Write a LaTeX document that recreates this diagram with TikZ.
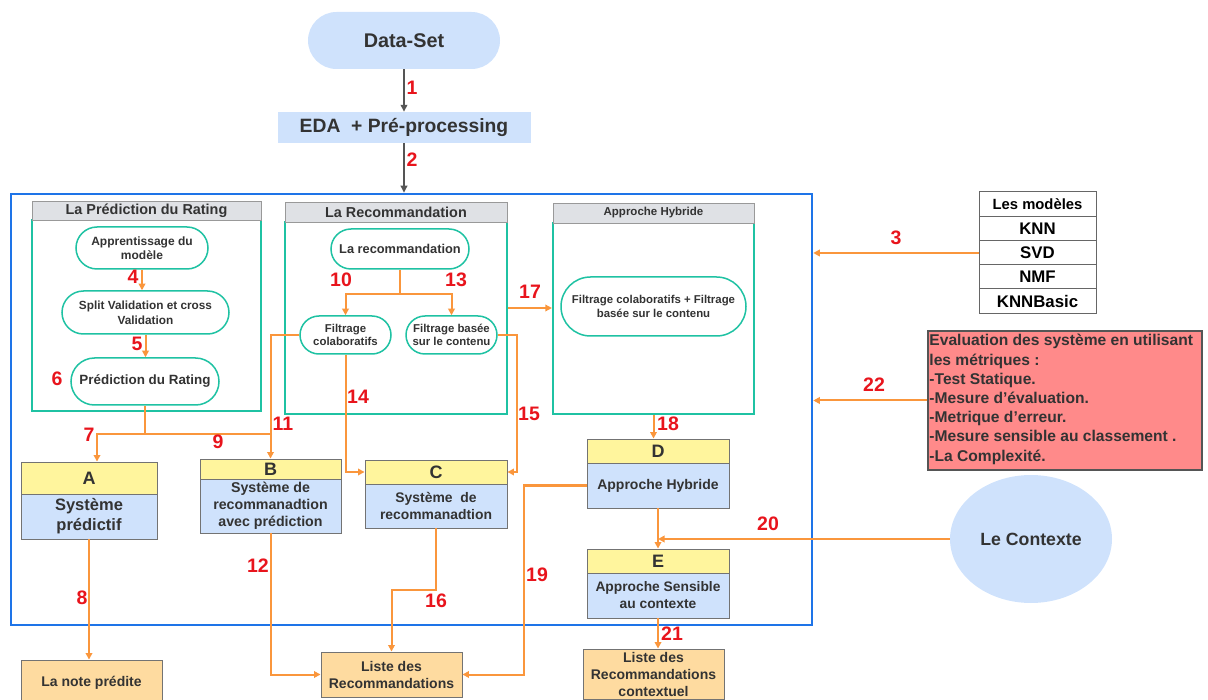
\documentclass[tikz,border=0pt]{standalone}
\usepackage{fontspec}
\setmainfont{Liberation Sans}
\usetikzlibrary{arrows.meta,calc,shapes.geometric,shapes.misc}

\definecolor{frameblue}{HTML}{1E74E8}
\definecolor{tealc}{HTML}{1FC2A3}
\definecolor{lightblue}{HTML}{CFE2FC}
\definecolor{hdrgray}{HTML}{DFE1E5}
\definecolor{hdryellow}{HTML}{FFF59D}
\definecolor{outbox}{HTML}{FEDBA0}
\definecolor{evalred}{HTML}{FF8A8A}
\definecolor{conncol}{HTML}{FA963C}
\definecolor{numred}{HTML}{E8141C}
\definecolor{txt}{HTML}{333333}
\definecolor{grayline}{HTML}{555555}

\newcommand{\fz}[2]{\fontsize{#1}{#2}\selectfont}

\begin{document}
\begin{tikzpicture}[x=1pt,y=-1pt,
  every node/.style={inner sep=0pt, text=txt, font=\bfseries},
  pill/.style={shape=rounded rectangle, draw=tealc, line width=1.5pt, fill=white, align=center},
  panelbody/.style={draw=tealc, line width=2.2pt, fill=white},
  panelhdr/.style={draw=gray!80, line width=0.8pt, fill=hdrgray},
  lethdr/.style={draw=gray!90!black, line width=0.9pt, fill=hdryellow, font=\bfseries\fz{18}{20}},
  letbody/.style={draw=gray!90!black, line width=0.9pt, fill=lightblue, align=center},
  outnode/.style={draw=gray!90!black, line width=0.9pt, fill=outbox, align=center, font=\bfseries\fz{14}{17}},
  modrow/.style={draw=gray!80!black, line width=0.8pt, fill=white, minimum width=117pt, minimum height=24.25pt, text=black, font=\bfseries\fz{16.8}{18}},
  num/.style={text=numred, font=\bfseries\fz{19.5}{21}},
  conn/.style={draw=conncol, line width=2pt},
  carrow/.style={conn, -{Triangle[length=6.5pt,width=6.5pt]}},
  garrow/.style={draw=grayline, line width=2pt, -{Triangle[length=7pt,width=6.5pt]}}
]
\useasboundingbox (0,0) rectangle (1208,700);

% outer frame
\node[draw=frameblue, line width=2.5pt, minimum width=801pt, minimum height=431pt] (frame) at (411.5,409.5) {};

% top: data set and preprocessing
\node[shape=rounded rectangle, fill=lightblue, minimum width=192pt, minimum height=57pt, font=\bfseries\fz{19.8}{22}] (ds) at (404,40.5) {Data-Set};
\node[fill=lightblue, minimum width=253pt, minimum height=31pt, font=\bfseries\fz{19.3}{22}] (eda) at (404,127.5) {EDA\ \ + Pré-processing};
\draw[garrow] (ds.south) -- (ds.south |- eda.north);
\draw[garrow] (ds.south |- eda.south) -- (ds.south |- frame.north);

% panel 1: rating prediction
\node[panelbody, minimum width=229pt, minimum height=191pt] (pb1) at (146.5,315.5) {};
\node[panelhdr, minimum width=229pt, minimum height=19pt, font=\bfseries\fz{14.4}{16}] (ph1) at (146.5,210.5) {La Prédiction du Rating};
\node[pill, minimum width=132pt, minimum height=42pt, font=\bfseries\fz{12}{14.5}] (p1) at (142,248) {Apprentissage du\\modèle};
\node[pill, minimum width=167pt, minimum height=43pt, font=\bfseries\fz{11.8}{15}] (p2) at (145.5,312.5) {Split Validation et cross\\Validation};
\node[pill, minimum width=148pt, minimum height=47pt, font=\bfseries\fz{13.4}{16}] (p3) at (145,381.5) {Prédiction du Rating};

% panel 2: recommendation
\node[panelbody, minimum width=222pt, minimum height=192pt] (rb) at (396,318) {};
\node[panelhdr, minimum width=222pt, minimum height=20pt, font=\bfseries\fz{14.4}{16}] (rh) at (396,212) {La Recommandation};
\node[pill, minimum width=138pt, minimum height=40pt, font=\bfseries\fz{12.8}{15}] (r1) at (400,249) {La recommandation};
\node[pill, minimum width=91pt, minimum height=38pt, font=\bfseries\fz{11.4}{13.5}] (r2) at (345.5,335) {Filtrage\\colaboratifs};
\node[pill, minimum width=91pt, minimum height=38pt, font=\bfseries\fz{11.4}{13.5}] (r3) at (451.5,335) {Filtrage basée\\sur le contenu};

% panel 3: hybrid approach
\node[panelbody, minimum width=201pt, minimum height=191pt] (hb) at (653.5,318.5) {};
\node[panelhdr, minimum width=201pt, minimum height=20pt, font=\bfseries\fz{11.5}{13}] (hh) at (653.5,213) {Approche Hybride};
\node[pill, minimum width=185pt, minimum height=59pt, font=\bfseries\fz{11.4}{14}] (h1) at (653.5,306.5) {Filtrage colaboratifs + Filtrage\\basée sur le contenu};

% systems A to E
\node[lethdr, minimum width=136pt, minimum height=32pt] (Ah) at (89,478) {A};
\node[letbody, minimum width=136pt, minimum height=45pt, font=\bfseries\fz{16.5}{20}] (Ab) at (89,516.5) {Système\\prédictif};
\node[lethdr, minimum width=141pt, minimum height=20pt] (Bh) at (270.5,469) {B};
\node[letbody, minimum width=141pt, minimum height=54pt, font=\bfseries\fz{14.2}{17}] (Bb) at (270.5,506) {Système de\\recommanadtion\\avec prédiction};
\node[lethdr, minimum width=142pt, minimum height=24pt] (Ch) at (436,472) {C};
\node[letbody, minimum width=142pt, minimum height=44pt, font=\bfseries\fz{13.9}{17}] (Cb) at (436,506) {Système\ \ de\\recommanadtion};
\node[lethdr, minimum width=142pt, minimum height=24pt] (Dh) at (658,451) {D};
\node[letbody, minimum width=142pt, minimum height=45pt, font=\bfseries\fz{14}{16}] (Db) at (658,485.5) {Approche Hybride};
\node[lethdr, minimum width=142pt, minimum height=24pt] (Eh) at (658,561) {E};
\node[letbody, minimum width=142pt, minimum height=45pt, font=\bfseries\fz{13.8}{17}] (Eb) at (658,595.5) {Approche Sensible\\au contexte};

% outputs
\node[outnode, minimum width=141pt, minimum height=46pt] (note) at (91.5,683) {La note prédite};
\node[outnode, minimum width=141pt, minimum height=45pt] (liste) at (391.5,674.5) {Liste des\\Recommandations};
\node[outnode, minimum width=141pt, minimum height=50pt] (listec) at (653.5,674) {Liste des\\Recommandations\\contextuel};

% models table
\node[modrow, font=\bfseries\fz{14.8}{16}] (m0) at (1037.5,204) {Les modèles};
\node[modrow] (m1) at (1037.5,228.5) {KNN};
\node[modrow] (m2) at (1037.5,253) {SVD};
\node[modrow] (m3) at (1037.5,277) {NMF};
\node[modrow] (m4) at (1037.5,301) {KNNBasic};

% evaluation box
\node[draw=grayline, line width=1.5pt, fill=evalred, minimum width=274pt, minimum height=139pt] (ev) at (1065,400.5) {};
\node[anchor=north west, align=left, font=\bfseries\fz{15.6}{19.2}] (evt) at ($(ev.north west)+(2,4)$) {Evaluation des système en utilisant\\les métriques :\\-Test Statique.\\-Mesure d'évaluation.\\-Metrique d'erreur.\\-Mesure sensible au classement .\\-La Complexité.};

% context
\node[ellipse, fill=lightblue, minimum width=162pt, minimum height=128pt, font=\bfseries\fz{17.7}{20}] (ctx) at (1031,539) {Le Contexte};

% connectors inside panels
\draw[carrow] (p1.south) -- (p1.south |- p2.north);
\draw[carrow] (p2.south) -- (p2.south |- p3.north);
\coordinate (rj) at ($(r1.south)+(0,24)$);
\draw[conn] (r1.south) -- (rj);
\draw[carrow] (rj) -| (r2.north);
\draw[carrow] (rj) -| (r3.north);

% connectors between blocks
\coordinate (j7) at ($(p3.south)+(0,28)$);
\draw[conn] (p3.south) -- (j7);
\draw[carrow] (j7) -| ([xshift=8pt]Ah.north);
\draw[conn] (j7) -- (j7 -| Bh.north);
\draw[carrow] (r2.west) -| (Bh.north);
\draw[carrow] (r2.south) |- (Ch.west);
\draw[carrow] (r3.east) -- ++(19,0) |- (Ch.east);
\coordinate (a17) at ($(rb.east)+(0,-10)$);
\draw[carrow] (a17) -- (a17 -| hb.west);
\draw[carrow] (hb.south) -- (hb.south |- Dh.north);
\draw[carrow] (Db.south) -- (Eh.north);
\draw[carrow] (Ab.south) -- (Ab.south |- note.north);
\draw[carrow] (Bb.south) |- (liste.west);
\draw[carrow] (Cb.south) -- ++(0,62) -| (liste.north);
\draw[carrow] (Db.west) -- ++(-63,0) |- (liste.east);
\draw[carrow] (Eb.south) -- (Eb.south |- listec.north);
\draw[carrow] (m2.west) -- (m2.west -| frame.east);
\draw[carrow] (ev.west) -- (ev.west -| frame.east);
\draw[carrow] (ctx.west) -- (ctx.west -| Db.south);

% step numbers
\node[num] (n1) at (412,88) {1};
\node[num] (n2) at (412,160) {2};
\node[num] (n3) at (896,238) {3};
\node[num] (n4) at (133,277) {4};
\node[num] (n5) at (137,344) {5};
\node[num] (n6) at (57,379) {6};
\node[num] (n7) at (89,435) {7};
\node[num] (n8) at (82,598) {8};
\node[num] (n9) at (218,442) {9};
\node[num] (n10) at (341,280) {10};
\node[num] (n11) at (283,424) {11};
\node[num] (n12) at (258,566) {12};
\node[num] (n13) at (456,280) {13};
\node[num] (n14) at (358,397) {14};
\node[num] (n15) at (529,414) {15};
\node[num] (n16) at (436,601) {16};
\node[num] (n17) at (530,292) {17};
\node[num] (n18) at (668,424) {18};
\node[num] (n19) at (537,575) {19};
\node[num] (n20) at (768,524) {20};
\node[num] (n21) at (672,634) {21};
\node[num] (n22) at (874,385) {22};
\end{tikzpicture}
\end{document}
